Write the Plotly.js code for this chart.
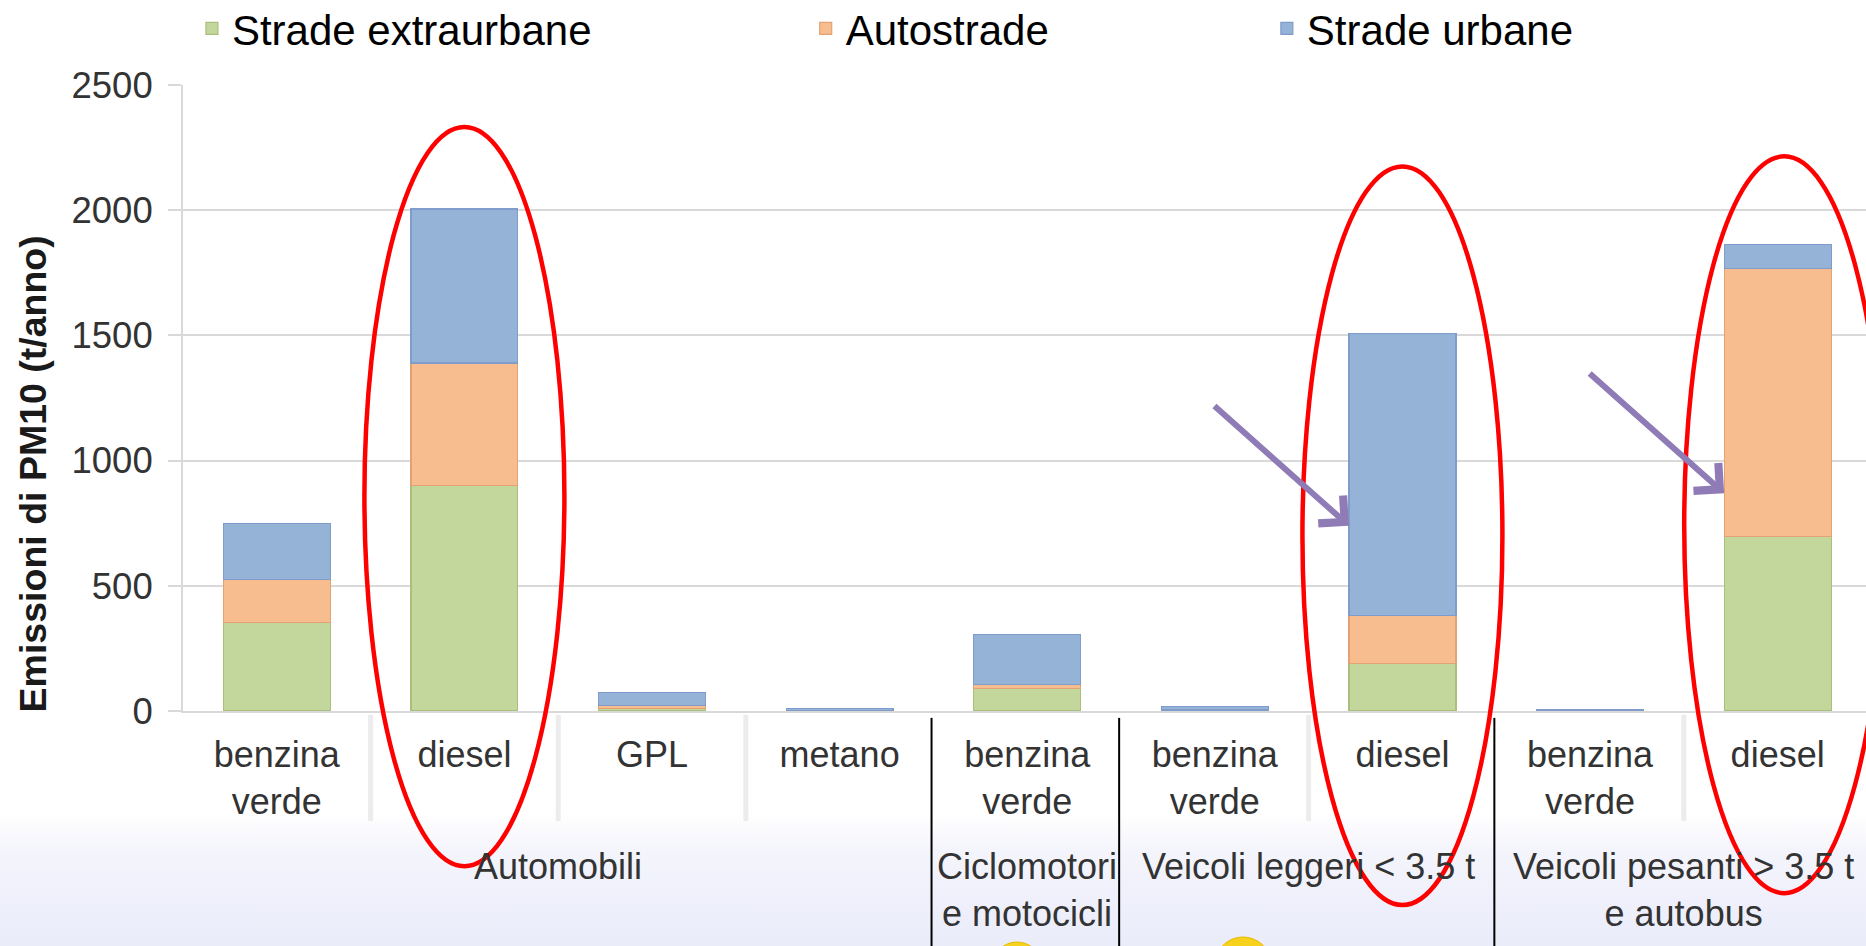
<!DOCTYPE html>
<html><head><meta charset="utf-8">
<script src="https://cdn.plot.ly/plotly-3.0.1.min.js"></script>
<style>
html,body{margin:0;padding:0;}
body{width:1866px;height:946px;overflow:hidden;background:linear-gradient(to bottom,#ffffff 0%,#ffffff 86%,#f4f4fc 90%,#eaecfa 100%);}
#chart{width:1866px;height:946px;}
</style></head><body><div id="chart"></div>
<script>
// ---- data ----
const fuels = ['benzina<br>verde','diesel','GPL','metano','benzina<br>verde','benzina<br>verde','diesel','benzina<br>verde','diesel'];
const vehicleGroups = ['Automobili','Automobili','Automobili','Automobili',
  'Ciclomotori<br>e motocicli',
  'Veicoli leggeri &lt; 3.5 t','Veicoli leggeri &lt; 3.5 t',
  'Veicoli pesanti &gt; 3.5 t<br>e autobus','Veicoli pesanti &gt; 3.5 t<br>e autobus'];
const seriesNames = ['Strade extraurbane','Autostrade','Strade urbane'];
const extraurbane = [355, 900, 11, 1, 90, 2, 189, 1, 696];
const autostrade  = [170, 490, 11, 1, 16, 2, 192, 1, 1070];
const urbane      = [223, 615, 51, 7, 199, 13, 1128, 2, 96];
const yTicks = [0, 500, 1000, 1500, 2000, 2500];
const yTitle = 'Emissioni di PM10 (t/anno)';
const highlighted = [1, 6, 8];           // circled bars
const arrowTargets = [[6, 740], [8, 870]]; // [bar index, value] pointed by arrows

// ---- styles ----
const FONT = 'Liberation Sans, Arial, sans-serif';
const colors = ['#c3d69b', '#f8bd8f', '#95b3d7'];
const edgeColors = ['#a9c07c', '#e3a273', '#7f9ccb'];
const legendIds = ['legend', 'legend2', 'legend3'];
const xIdx = fuels.map((_, i) => i);
const seriesVals = [extraurbane, autostrade, urbane];
const halfBar = 0.285;

const traces = seriesVals.map((v, k) => ({
  type: 'bar', x: xIdx, y: v, name: seriesNames[k], legend: legendIds[k],
  marker: {color: colors[k], line: {color: edgeColors[k], width: 1.2}},
  hovertemplate: '%{y}<extra>' + seriesNames[k] + '</extra>'
}));

// group structure
const groupNames = []; const groupIdx = {};
vehicleGroups.forEach((g, i) => { if (!(g in groupIdx)) { groupIdx[g] = []; groupNames.push(g); } groupIdx[g].push(i); });

const shapes = [];
for (let i = 0; i <= fuels.length; i++) {
  const b = i - 0.5;
  const sameGroup = i > 0 && i < fuels.length && vehicleGroups[i - 1] === vehicleGroups[i];
  if (sameGroup) {
    shapes.push({type: 'line', xref: 'x', yref: 'paper', x0: b, x1: b, y0: -0.006, y1: -0.176,
      line: {color: '#ececec', width: 5}, layer: 'below'});
  } else {
    shapes.push({type: 'line', xref: 'x', yref: 'paper', x0: b - 0.01, x1: b - 0.01, y0: -0.011, y1: -0.40,
      line: {color: '#000000', width: 2}});
  }
}
// red ellipses around the diesel bars
const ellY = [[-0.248, 0.933], [-0.310, 0.870], [-0.291, 0.886]];
const ellDx = [0, 0, 0.035];
highlighted.forEach((idx, j) => {
  shapes.push({type: 'circle', xref: 'x', yref: 'paper', x0: idx + ellDx[j] - 0.533, x1: idx + ellDx[j] + 0.533,
    y0: ellY[j][0], y1: ellY[j][1], line: {color: '#ff0000', width: 4.5}, fillcolor: 'rgba(0,0,0,0)'});
});
// yellow circles peeking at the bottom
[[0.4807, 0.5104, -0.369, -0.449], [0.6132, 0.6465, -0.361, -0.450]].forEach(c => {
  shapes.push({type: 'circle', xref: 'paper', yref: 'paper', x0: c[0], x1: c[1], y0: c[3], y1: c[2],
    fillcolor: '#f7d21c', line: {color: '#e8b800', width: 1}});
});

const annotations = groupNames.map(g => {
  const ids = groupIdx[g];
  const cx = ids.reduce((a, b) => a + b, 0) / ids.length;
  return {xref: 'x', yref: 'paper', x: cx, y: -0.213, yanchor: 'top', xanchor: 'center',
    text: g, showarrow: false, font: {family: FONT, size: 36, color: '#333333'}};
});
annotations.push({xref: 'paper', yref: 'paper', x: -0.0891, y: 0.378, xanchor: 'center', yanchor: 'middle',
  textangle: -90, text: '<b>' + yTitle + '</b>', showarrow: false, font: {family: FONT, size: 37.5, color: '#1a1a1a'}});
arrowTargets.forEach(t => {
  annotations.push({xref: 'x', yref: 'y', x: t[0] - halfBar, y: t[1], ax: -136, ay: -121, text: '',
    showarrow: true, arrowhead: 4, arrowsize: 1.2, arrowwidth: 6, arrowcolor: '#8f7bb6', standoff: 0});
});

const legendBase = {orientation: 'h', y: 1.09, yanchor: 'middle', xanchor: 'left',
  font: {family: FONT, size: 42, color: '#000000'}, bgcolor: 'rgba(0,0,0,0)'};

const layout = {
  width: 1866, height: 946,
  margin: {l: 183, r: 0, t: 85, b: 235, pad: 0, autoexpand: false},
  paper_bgcolor: 'rgba(0,0,0,0)', plot_bgcolor: '#ffffff',
  font: {family: FONT, color: '#333333'},
  barmode: 'stack', bargap: 0.43,
  showlegend: true,
  legend: Object.assign({}, legendBase, {x: 0.0053}),
  legend2: Object.assign({}, legendBase, {x: 0.370}),
  legend3: Object.assign({}, legendBase, {x: 0.644}),
  xaxis: {range: [-0.5, 8.471], tickmode: 'array', tickvals: xIdx, ticktext: fuels, ticks: '',
    showgrid: false, zeroline: false, showline: true, linecolor: '#d9d9d9', linewidth: 2,
    tickfont: {family: FONT, size: 36, color: '#333333'}, ticklabelstandoff: 11, fixedrange: true},
  yaxis: {range: [0, 2500], tickmode: 'array', tickvals: yTicks, ticks: 'outside', ticklen: 13,
    tickcolor: '#d9d9d9', tickwidth: 2, showgrid: true, gridcolor: '#d9d9d9', gridwidth: 2,
    showline: true, linecolor: '#d9d9d9', linewidth: 2, zeroline: false,
    tickfont: {family: FONT, size: 36.5, color: '#333333'}, ticklabelstandoff: 8, fixedrange: true},
  shapes: shapes, annotations: annotations
};

Plotly.newPlot('chart', traces, layout, {displayModeBar: false, staticPlot: true});
</script></body></html>
